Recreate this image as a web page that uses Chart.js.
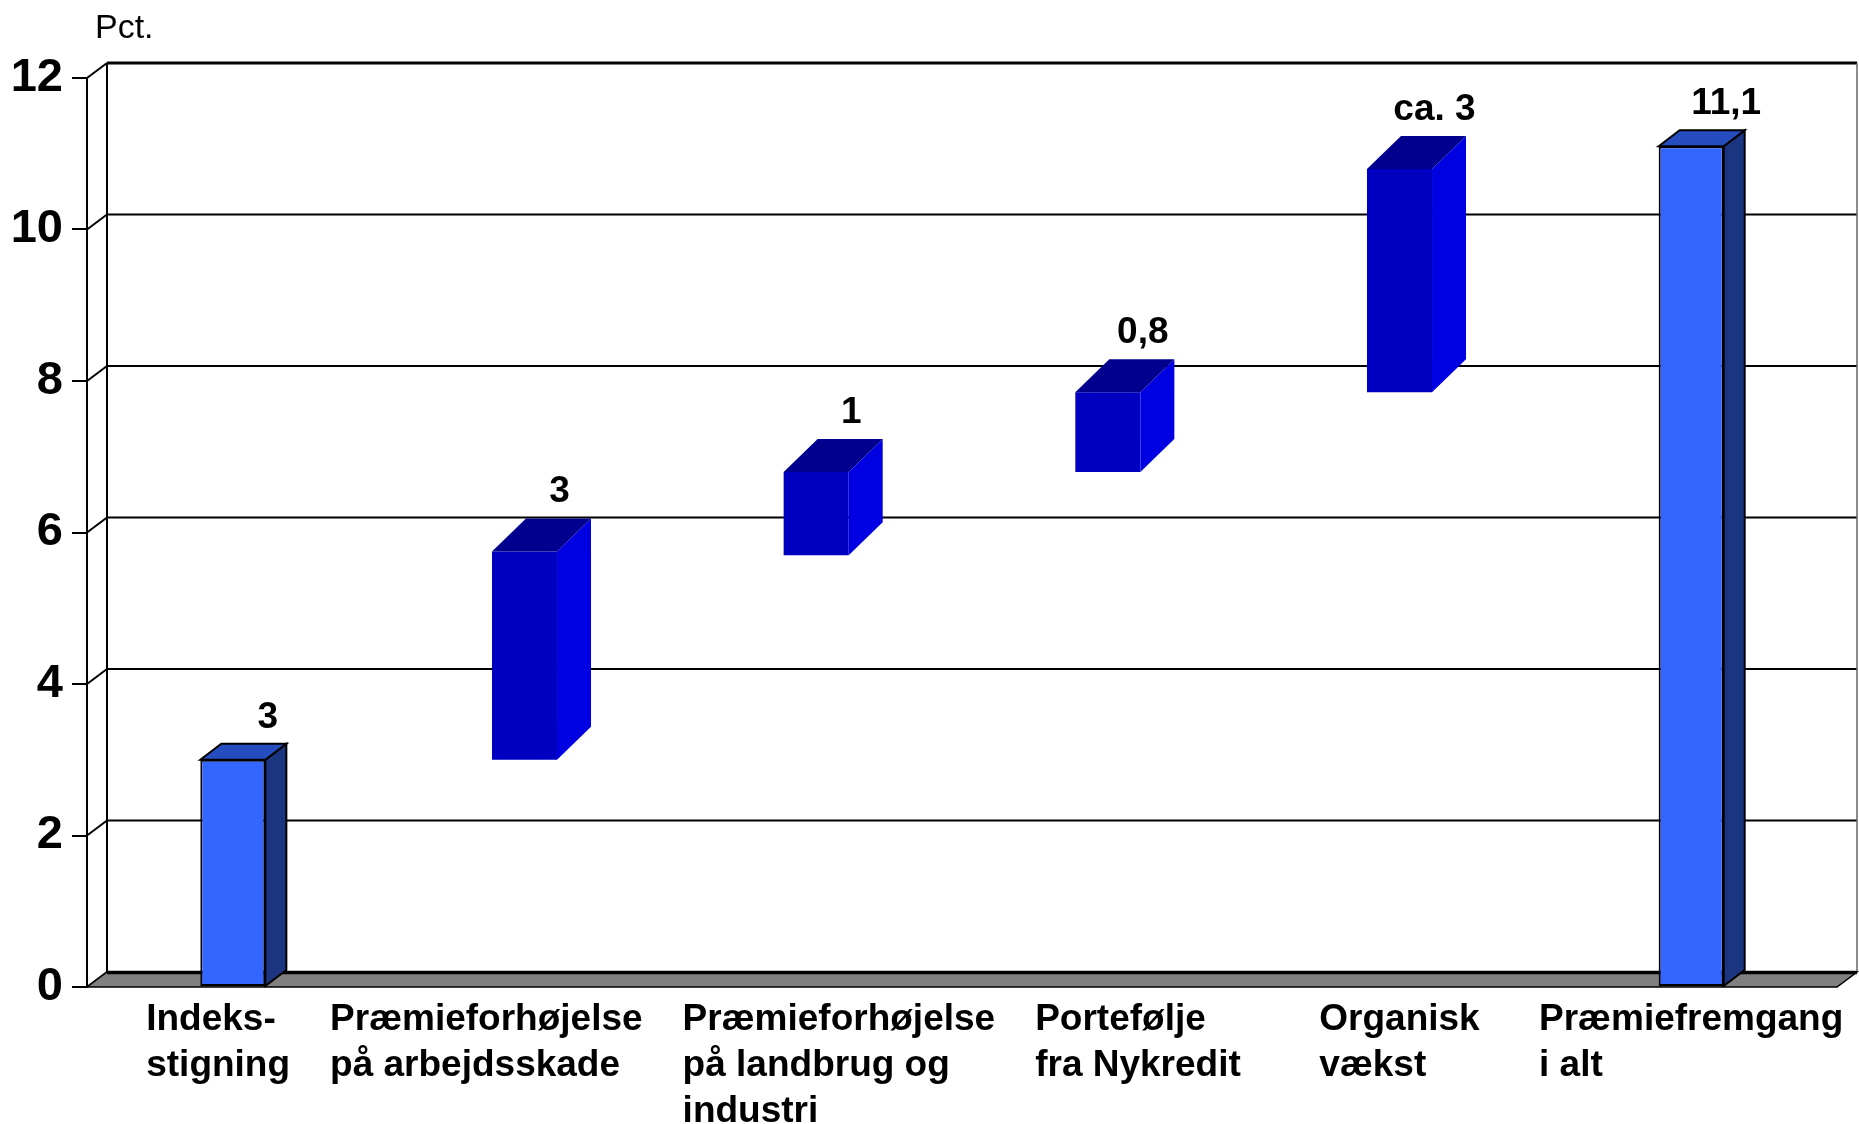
<!DOCTYPE html>
<html>
<head>
<meta charset="utf-8">
<script src="https://cdn.jsdelivr.net/npm/chart.js@4/dist/chart.umd.min.js"></script>
<style>
  html, body { margin: 0; padding: 0; background: #ffffff; }
  #wrap { width: 1859px; height: 1124px; }
</style>
</head>
<body>
<div id="wrap"><canvas id="c" width="1859" height="1124"></canvas></div>
<script>
// ---- data ----
const categories = [
  ["Indeks-", "stigning"],
  ["Præmieforhøjelse", "på arbejdsskade"],
  ["Præmieforhøjelse", "på landbrug og", "industri"],
  ["Portefølje", "fra Nykredit"],
  ["Organisk", "vækst"],
  ["Præmiefremgang", "i alt"]
];
const barStart = [0, 3, 5.7, 6.8, 7.85, 0];
const barEnd   = [3, 5.75, 6.8, 7.85, 10.8, 11.1];
const valueLabels = ["3", "3", "1", "0,8", "ca. 3", "11,1"];
const yMin = 0, yMax = 12, yStep = 2;
const yAxisTitle = "Pct.";

// ---- styles ----
const FONT = '"Liberation Sans", Arial, Helvetica, sans-serif';
const columnStyle = { front: '#3366FF', side: '#1B3580', top: '#264DBF', border: '#000000', borderWidth: 2, dx: 21, dy: -16 };
const stepStyle   = { front: '#0000C0', side: '#0000E2', top: '#00008E', border: 'rgba(0,0,0,0)', borderWidth: 0, dx: 34, dy: -33 };
const styleFor = i => (barStart[i] === 0 ? columnStyle : stepStyle);

const wallDx = 20, wallDy = -15;

function line(ctx, x1, y1, x2, y2) {
  ctx.beginPath(); ctx.moveTo(x1, y1); ctx.lineTo(x2, y2); ctx.stroke();
}

const threeD = {
  id: 'threeD',
  beforeDatasetsDraw(chart) {
    const { ctx, chartArea: a, scales: { y } } = chart;
    ctx.save();
    ctx.lineCap = 'butt';
    ctx.strokeStyle = '#000';
    y.ticks.forEach(t => {
      const py = y.getPixelForValue(t.value);
      ctx.lineWidth = 2;
      line(ctx, a.left, py, a.left + wallDx, py + wallDy);
      if (t.value > yMin) {
        ctx.lineWidth = t.value === yMax ? 3 : 2;
        line(ctx, a.left + wallDx, py + wallDy, a.right + wallDx, py + wallDy);
      }
    });
    ctx.lineWidth = 2;
    line(ctx, a.left + wallDx, a.top + wallDy, a.left + wallDx, a.bottom + wallDy);
    ctx.strokeStyle = '#666';
    ctx.lineWidth = 1.5;
    line(ctx, a.right + wallDx, a.top + wallDy, a.right + wallDx, a.bottom + wallDy);
    // floor
    ctx.beginPath();
    ctx.moveTo(a.left, a.bottom);
    ctx.lineTo(a.left + wallDx, a.bottom + wallDy);
    ctx.lineTo(a.right + wallDx, a.bottom + wallDy);
    ctx.lineTo(a.right, a.bottom);
    ctx.closePath();
    ctx.fillStyle = '#808080';
    ctx.fill();
    ctx.strokeStyle = '#000';
    ctx.lineWidth = 1.5;
    ctx.stroke();
    ctx.lineWidth = 3.5;
    line(ctx, a.left + wallDx, a.bottom + wallDy + 0.5, a.right + wallDx, a.bottom + wallDy + 0.5);
    ctx.restore();
  },
  afterDatasetsDraw(chart) {
    const { ctx } = chart;
    const meta = chart.getDatasetMeta(0);
    ctx.save();
    meta.data.forEach((bar, i) => {
      const s = styleFor(i);
      const w = bar.width;
      const L = bar.x - w / 2, R = bar.x + w / 2;
      const T = Math.min(bar.y, bar.base), B = Math.max(bar.y, bar.base);
      // side face
      ctx.beginPath();
      ctx.moveTo(R, T); ctx.lineTo(R + s.dx, T + s.dy);
      ctx.lineTo(R + s.dx, B + s.dy); ctx.lineTo(R, B); ctx.closePath();
      ctx.fillStyle = s.side; ctx.fill();
      if (s.borderWidth) { ctx.strokeStyle = s.border; ctx.lineWidth = s.borderWidth; ctx.stroke(); }
      // top face
      ctx.beginPath();
      ctx.moveTo(L, T); ctx.lineTo(L + s.dx, T + s.dy);
      ctx.lineTo(R + s.dx, T + s.dy); ctx.lineTo(R, T); ctx.closePath();
      ctx.fillStyle = s.top; ctx.fill();
      if (s.borderWidth) { ctx.strokeStyle = s.border; ctx.lineWidth = s.borderWidth; ctx.stroke(); }
      // value label
      ctx.fillStyle = '#000';
      ctx.font = 'bold 37px ' + FONT;
      ctx.textAlign = 'center';
      ctx.textBaseline = 'alphabetic';
      ctx.fillText(valueLabels[i], bar.x + 35, T + s.dy - 16);
    });
    ctx.restore();
  },
  afterDraw(chart) {
    const { ctx, chartArea: a, scales: { x } } = chart;
    ctx.save();
    ctx.fillStyle = '#000';
    ctx.textBaseline = 'alphabetic';
    ctx.textAlign = 'left';
    ctx.font = 'bold 37px ' + FONT;
    const labels = chart.data.labels;
    // each label block centred under its category, lines left-aligned
    const blocks = labels.map((lines, i) => {
      const w = Math.max(...lines.map(l => ctx.measureText(l).width));
      return { lines, w, left: x.getPixelForValue(i) - w / 2 };
    });
    // push neighbouring blocks apart where they would collide
    const minGap = 40;
    for (let it = 0; it < 50; it++) {
      for (let i = 0; i < blocks.length - 1; i++) {
        const b1 = blocks[i], b2 = blocks[i + 1];
        const gap = b2.left - (b1.left + b1.w);
        if (gap < minGap) {
          const d = (minGap - gap) / 2;
          b1.left -= d; b2.left += d;
        }
      }
    }
    blocks.forEach(b => {
      b.lines.forEach((l, k) => ctx.fillText(l, b.left, a.bottom + 43 + k * 46));
    });
    ctx.font = '34px ' + FONT;
    ctx.fillText(yAxisTitle, 95, 38);
    ctx.restore();
  }
};

new Chart(document.getElementById('c'), {
  type: 'bar',
  data: {
    labels: categories,
    datasets: [{
      data: barStart.map((s, i) => [s, barEnd[i]]),
      backgroundColor: barStart.map((_, i) => styleFor(i).front),
      borderColor: barStart.map((_, i) => styleFor(i).border),
      borderWidth: barStart.map((_, i) => styleFor(i).borderWidth),
      borderSkipped: false,
      barPercentage: 0.223,
      categoryPercentage: 1.0
    }]
  },
  options: {
    responsive: false,
    devicePixelRatio: 1,
    animation: false,
    layout: { padding: { top: 78, right: 22, left: 0, bottom: 0 } },
    plugins: { legend: { display: false }, tooltip: { enabled: false }, title: { display: false } },
    scales: {
      x: {
        type: 'category',
        offset: true,
        grid: { display: false },
        border: { display: false },
        ticks: { display: false },
        afterFit: s => { s.height = 137; }
      },
      y: {
        min: yMin, max: yMax,
        ticks: { stepSize: yStep, color: '#000', padding: 9, font: { family: FONT, size: 47, weight: 'bold' } },
        grid: { display: true, drawOnChartArea: false, drawTicks: true, tickLength: 15, color: '#000', lineWidth: 2 },
        border: { display: true, color: '#000', width: 2 },
        afterFit: s => { s.width = 87; }
      }
    }
  },
  plugins: [threeD]
});
</script>
</body>
</html>
